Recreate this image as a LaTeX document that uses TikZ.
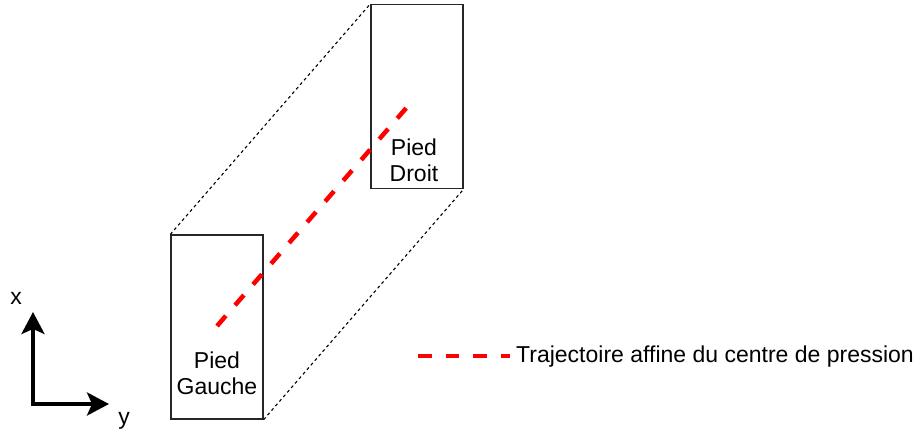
\documentclass[tikz,border=0pt]{standalone}
\usepackage{fontspec}
\setmainfont{Liberation Sans}
\usetikzlibrary{arrows.meta}
\begin{document}
\begin{tikzpicture}[x=1pt,y=-1pt,
  foot/.style={draw=black!85,line width=1.3pt,minimum width=92pt,minimum height=184pt,inner sep=0pt},
  lbl/.style={font=\fontsize{23}{26}\selectfont,align=center,inner sep=0pt},
  reddash/.style={red,line width=4.5pt,dash pattern=on 13.5pt off 14pt},
  proj/.style={black,line width=1.1pt,dash pattern=on 3pt off 3pt},
  axis/.style={line width=3.6pt,-{Stealth[length=22pt,width=23pt,inset=5pt]}}]
\useasboundingbox (0,0) rectangle (916,436);
\node[foot] (L) at (217,327) {};
\node[foot] (R) at (417,96.5) {};
\node[lbl] (Lt) at (217,373) {Pied\\Gauche};
\node[lbl] (Rt) at (414,160) {Pied\\Droit};
\draw[proj] (L.north west) -- (R.north west);
\draw[proj] (L.south east) -- (R.south east);
\coordinate (ts) at (217,326);
\coordinate (te) at (408,106);
\draw[reddash] (ts) -- (te);
\coordinate (ls) at (418,356);
\coordinate (le) at (510,356);
\draw[reddash] (ls) -- (le);
\node[lbl,anchor=west] (leg) at (516,357) {Trajectoire affine du centre de pression};
\coordinate (O) at (33,404);
\coordinate (Xe) at (33,312);
\coordinate (Ye) at (109,404);
\draw[axis] ([yshift=-1.8pt]O) -- (Xe);
\draw[axis] ([xshift=-1.8pt]O) -- (Ye);
\node[lbl] (xl) at (16,298) {x};
\node[lbl] (yl) at (124,421) {y};
\end{tikzpicture}
\end{document}
